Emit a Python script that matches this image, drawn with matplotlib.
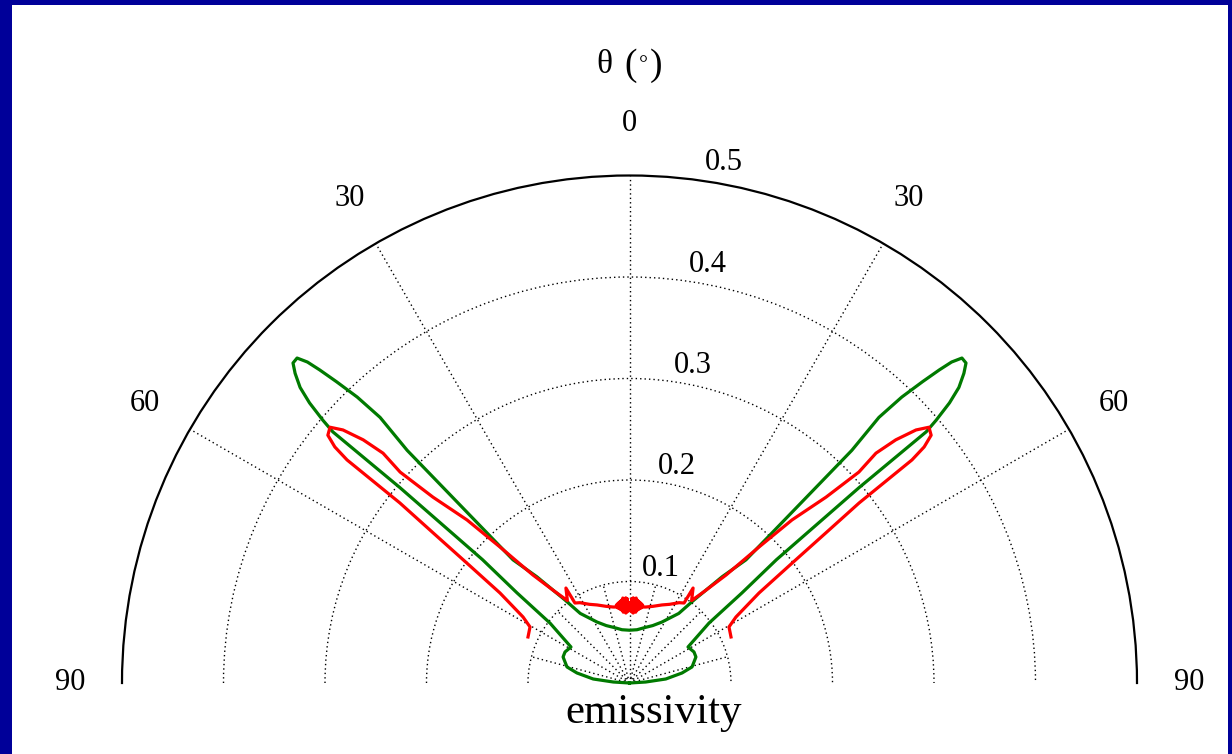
import numpy as np
import matplotlib
matplotlib.use("Agg")
import matplotlib.pyplot as plt
from matplotlib.patches import Rectangle

# emissivity vs angle, left half of the pattern (pattern is symmetric), traced from 0 outwards
green_theta = [0, -8, -16, -22, -28, -35.3, -37.9, -41.1, -43.4, -43.7, -43.2, -43.6, -44.2,
               -44.7, -45.1, -45.65, -46.44, -47.2, -48.1, -48.8, -49.4, -49.75, -49.6, -50.0,
               -51.3, -53.0, -58.4, -64.3, -68.6, -75.6, -79.2, -83.7, -86.5, -90.0]
green_r = [0.052, 0.053, 0.057, 0.061, 0.068, 0.084, 0.104, 0.139, 0.167, 0.317, 0.359, 0.389, 0.414,
           0.434, 0.448, 0.458, 0.4575, 0.449, 0.436, 0.419, 0.398, 0.383, 0.297, 0.189,
           0.142, 0.098, 0.0677, 0.0705, 0.0703, 0.0636, 0.0527, 0.036, 0.016, 0.0]

red_theta = [0, -0.5, -1, -1.5, -2, -2.5, -3, -3.5, -4, -4.5, -5, -5.5, -6, -6.5, -7, -7.5, -8,
             -8.5, -9, -9.5, -10, -12.2, -17, -22.6, -27, -31.7, -34.3, -33.8, -37.0, -39.3,
             -41.8, -43.6, -44.9, -46.6, -47.4, -47.0, -47.6, -48.55, -49.5, -50.6, -51.3,
             -51.7, -51.9, -52.6, -53.6, -55.2, -58.2, -60.6, -65.6]
red_r = [0.076, 0.079, 0.071, 0.083, 0.070, 0.084, 0.069, 0.083, 0.071, 0.084, 0.070, 0.082, 0.072,
         0.081, 0.073, 0.080, 0.074, 0.079, 0.075, 0.078, 0.076, 0.0766, 0.079, 0.0833, 0.087,
         0.093, 0.0954, 0.1126, 0.1017, 0.117, 0.1427, 0.185, 0.2268, 0.2665, 0.307, 0.332,
         0.3553, 0.3766, 0.388, 0.3846, 0.372, 0.3546, 0.2875, 0.2436, 0.199, 0.1554, 0.1234,
         0.1125, 0.1098]

r_ticks = [0.1, 0.2, 0.3, 0.4, 0.5]
theta_ticks = [-90, -60, -30, 0, 30, 60, 90]
short_spokes = [-75, -45, -15, 15, 45, 75]


def mirror(theta, r):
    # left half -> full curve from -90 side to +90 side
    t = np.array(theta, dtype=float)
    rr = np.array(r, dtype=float)
    full_t = np.concatenate([t[::-1], -t[1:]])
    full_r = np.concatenate([rr[::-1], rr[1:]])
    return np.deg2rad(full_t), full_r


W, H = 1232, 754
fig = plt.figure(figsize=(W / 100, H / 100), dpi=100, facecolor="#000099")
fig.add_artist(Rectangle((12 / W, 0), 1216 / W, 749 / H, transform=fig.transFigure,
                         facecolor="white", edgecolor="none", zorder=-5))

serif = ["Liberation Serif", "DejaVu Serif"]

# half disc is centred inside a square box of side 2R
cx, cy, R = 629.5, 683, 507.5
top = cy - 1.5 * R
ax = fig.add_axes([(cx - R) / W, (H - top - 2 * R) / H, 2 * R / W, 2 * R / H], projection="polar")
ax.set_theta_zero_location("N")
ax.set_theta_direction(-1)
ax.set_thetamin(-90)
ax.set_thetamax(90)
ax.set_ylim(0, 0.5)
ax.patch.set_visible(False)

dots = (0, (1, 2.2))
ax.set_rgrids(r_ticks[:-1], labels=[])
ax.set_thetagrids([-60, -30, 0, 30, 60], labels=[])
ax.grid(True, color="black", linestyle=dots, linewidth=1.0)
ax.tick_params(length=0)
ax.spines["polar"].set_linewidth(1.6)
# start/end visibility is reset at draw time, so blank them instead
for name in ["start", "end", "inner"]:
    ax.spines[name].set_edgecolor("none")
    ax.spines[name].set_linewidth(0)

for s in short_spokes:
    ax.plot([np.deg2rad(s)] * 2, [0.005, 0.1], color="black", linestyle=dots, linewidth=1.0)

gt, gr = mirror(green_theta, green_r)
rt, rr = mirror(red_theta, red_r)
ax.plot(gt, gr, color="#007a00", linewidth=2.3, clip_on=False, zorder=3)
ax.plot(rt, rr, color="#ff0000", linewidth=2.3, clip_on=False, zorder=3)

# radial labels
for v in r_ticks:
    ax.annotate("%.1f" % v, xy=(0, v), xytext=(16 + 157 * v, 13), textcoords="offset pixels",
                ha="center", va="center", fontsize=22, family=serif)

# angle labels
for t in theta_ticks:
    ax.text(np.deg2rad(t), 0.551, str(abs(t)), ha="center", va="center",
            fontsize=22, family=serif, clip_on=False)

# axis title "θ (°)" built from pieces to get the sizes of the original
fig.text(604 / W, 1 - 73 / H, "θ", ha="center", va="baseline", fontsize=24, family=serif)
fig.text(630.5 / W, 1 - 75 / H, "(", ha="center", va="baseline", fontsize=27, family=serif)
fig.text(643.5 / W, 1 - 70 / H, "°", ha="center", va="baseline", fontsize=16, family=serif)
fig.text(656 / W, 1 - 75 / H, ")", ha="center", va="baseline", fontsize=27, family=serif)

fig.text(654 / W, 1 - 723 / H, "emissivity", ha="center", va="baseline", fontsize=31, family=serif)

fig.savefig("out.png", dpi=100, facecolor=fig.get_facecolor())
